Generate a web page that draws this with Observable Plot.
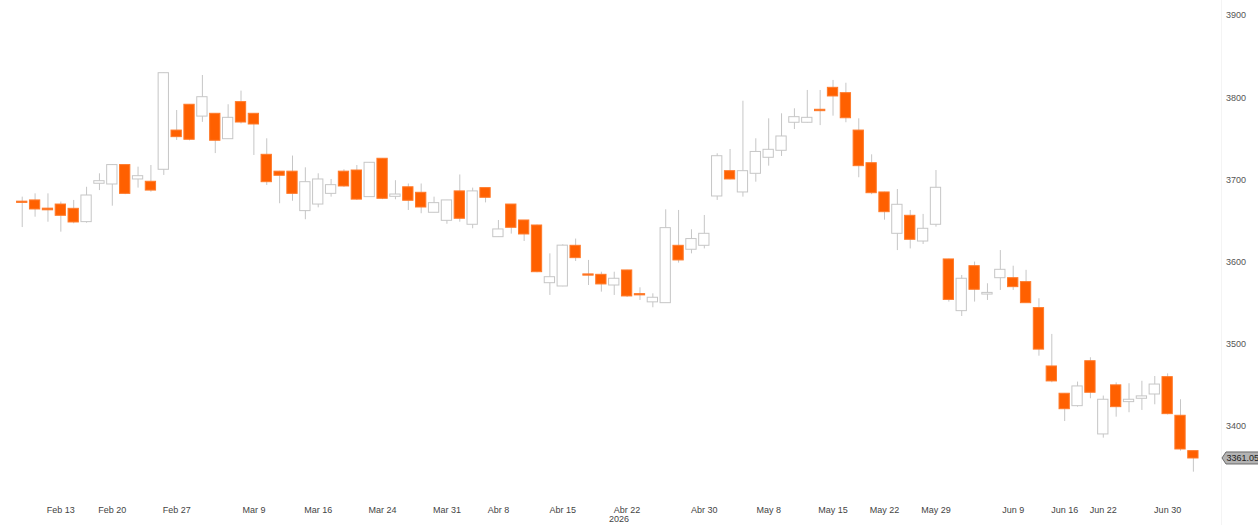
<!DOCTYPE html>
<html>
<head>
<meta charset="utf-8">
<script src="https://cdn.jsdelivr.net/npm/d3@7"></script>
<script src="https://cdn.jsdelivr.net/npm/@observablehq/plot@0.6"></script>
<style>
  html, body { margin: 0; padding: 0; background: #fff; }
  #chart { width: 1258px; height: 525px; overflow: hidden; position: relative; }
</style>
</head>
<body>
<div id="chart"></div>
<script>
// Daily candles (trading-day index 0..91)
const openValues = [3673.5,3675,3665,3670,3664.8,3648.6,3695.3,3694.4,3718,3700.5,3697.7,3712.3,3760,3791.4,3777,3780.4,3749.5,3794.6,3780.4,3730.5,3710,3710,3662,3670,3683,3710,3711.4,3679,3725.7,3679.4,3691,3684.3,3660,3650.2,3686,3645.4,3690,3630.3,3670,3650.6,3644.5,3574.3,3570.3,3619.8,3585,3584.5,3571.5,3589.8,3561,3551,3550,3619.8,3615,3619.8,3679.8,3710.6,3684.7,3707.4,3726.9,3735.4,3769.5,3769.5,3785.3,3812,3805.5,3760,3720.3,3684.7,3634.4,3656.3,3625,3645.4,3603.2,3540.3,3595,3560.5,3580.4,3580.4,3575.6,3544,3473,3439.8,3424.7,3479.4,3390.3,3450,3429.6,3433.7,3438.9,3460,3413,3370];
const highValues = [3679,3683,3683,3673,3675,3691,3707.4,3718.5,3718.5,3715.5,3717.5,3830,3784.4,3791.5,3827,3780.5,3791.4,3808,3780.5,3750,3710.5,3729,3714.7,3707.4,3700.5,3712.3,3717.5,3721,3726,3699,3695,3695,3679,3675,3706,3690,3690,3650.6,3670,3650.6,3645,3610,3621,3628,3602,3587.7,3587.7,3590,3568.7,3561.4,3663.6,3662.8,3639.3,3656.7,3731.8,3737,3795.7,3750,3774.3,3780.4,3786.5,3808.8,3808.8,3821,3817.6,3774.3,3730.5,3685,3688.3,3662.8,3658,3711.4,3603.5,3583.7,3600,3573.6,3614,3595,3590,3555.4,3512,3440,3454,3483.6,3437,3453,3452,3455,3460.8,3464,3432.5,3370];
const lowValues = [3642,3654.6,3648.5,3636.4,3646.6,3647.3,3687,3668,3682,3690,3685,3705.4,3748,3747.5,3770,3732,3749.5,3768,3729.7,3693.2,3671,3674,3651.5,3666,3679,3691,3675,3679,3676,3675.8,3662.8,3658.8,3660,3646,3648.5,3640.5,3672,3630,3634,3625,3587,3559.4,3570,3600.7,3571.5,3563.4,3559.4,3557,3553.3,3544.4,3550,3598.7,3610,3616,3675,3700,3679,3697.2,3716.7,3728.5,3761.3,3769,3766,3777.5,3769.5,3702.6,3682,3651,3614,3616,3621.4,3642.5,3551.3,3533.8,3551.3,3553.3,3565.5,3565.5,3550,3485.5,3453.2,3406,3423.5,3433.7,3385.8,3411.3,3416.7,3419.5,3426.4,3414,3370,3344.4];
const closeValues = [3672,3664,3663,3656.3,3648.2,3681,3698.4,3718,3683,3704.5,3687,3829.8,3752,3748.8,3800.6,3747.6,3775.5,3769.8,3767.4,3697.2,3705,3683,3697.2,3700.5,3693.6,3692,3676,3720.8,3677,3682.2,3674.6,3666.4,3671.7,3675,3652.7,3686,3678.2,3639.7,3641.7,3633.6,3587.7,3581.6,3620,3604.8,3583.5,3572.8,3579.7,3558.2,3559.5,3556.6,3641.3,3602,3628,3634.4,3728.8,3700.5,3710.6,3734,3736.6,3752.8,3776.3,3775.5,3783.6,3801.5,3775,3716.7,3683.8,3660.7,3669.7,3627.1,3640.5,3690.4,3554,3579.7,3566.3,3562.5,3590.6,3569.5,3550,3493.5,3454.8,3421,3448.7,3441,3432.5,3423.5,3432.5,3436.6,3451,3415,3372,3361.05];

// X axis tick labels (candle index -> label)
const tickIndex = [3,7,12,18,23,28,33,37,42,47,53,58,63,67,71,77,81,84,89];
const tickLabels = ["Feb 13","Feb 20","Feb 27","Mar 9","Mar 16","Mar 24","Mar 31","Abr 8","Abr 15","Abr 22","Abr 30","May 8","May 15","May 22","May 29","Jun 9","Jun 16","Jun 22","Jun 30"];
const yearLabel = {index: 47, text: "2026"};
const yTicks = [3400,3500,3600,3700,3800,3900];
const lastValue = 3361.05;

const UP = "#ffffff", DOWN = "#ff6000", GREY = "#c6c6c6";
const FONT = "'Liberation Sans', Arial, sans-serif";
const data = openValues.map((o, i) => ({
  i, open: o, high: highValues[i], low: lowValues[i], close: closeValues[i]
}));
const labelOf = new Map(tickIndex.map((t, k) => [t, tickLabels[k]]));

const plot = Plot.plot({
  width: 1258,
  height: 525,
  marginTop: 15,
  marginBottom: 41.5,
  marginLeft: 14,
  marginRight: 57.4,
  style: {fontFamily: FONT, fontSize: "9px", color: "#444", background: "#fff", overflow: "hidden"},
  x: {type: "band", domain: d3.range(data.length), padding: 0.2, axis: null},
  y: {domain: [3330, 3900], axis: null},
  marks: [
    Plot.ruleX(data, {x: "i", y1: "low", y2: "high", stroke: GREY, strokeWidth: 1}),
    Plot.barY(data, {
      x: "i", y1: "open", y2: "close",
      fill: d => d.close < d.open ? DOWN : UP,
      stroke: d => d.close < d.open ? "#ff7a2a" : GREY,
      strokeWidth: 1
    }),
    Plot.axisX({ticks: tickIndex, tickFormat: i => labelOf.get(i), tickSize: 0, tickPadding: 23, fill: "#444"}),
    Plot.text([yearLabel], {x: "index", text: "text", frameAnchor: "bottom", dy: 37.5, dx: -8, fill: "#444"}),
    Plot.axisY({anchor: "right", ticks: yTicks, tickFormat: d => String(d), tickSize: 0, tickPadding: 25, fill: "#555"})
  ]
});

document.getElementById("chart").appendChild(plot);

// Last price tag, positioned with Plot's y scale
const svg = d3.select(plot);
const yScale = plot.scale("y");
const yy = yScale.apply(lastValue);
svg.append("line").attr("x1", 1221.5).attr("x2", 1221.5).attr("y1", 0).attr("y2", 525)
  .attr("stroke", "#f4f4f4").attr("stroke-width", 1);
const tipX = 1222, h = 6;
svg.append("path")
  .attr("d", `M${tipX},${yy} L${tipX + 4},${yy - h} L1262,${yy - h} L1262,${yy + h} L${tipX + 4},${yy + h} Z`)
  .attr("fill", "#b3b3b3").attr("stroke", "#6a6a6a").attr("stroke-width", 1);
svg.append("text").attr("x", tipX + 4.5).attr("y", yy).attr("dy", "0.34em")
  .attr("text-anchor", "start")
  .attr("fill", "#222").attr("font-size", "9px").attr("font-family", FONT)
  .text(lastValue.toFixed(2));
</script>
</body>
</html>
